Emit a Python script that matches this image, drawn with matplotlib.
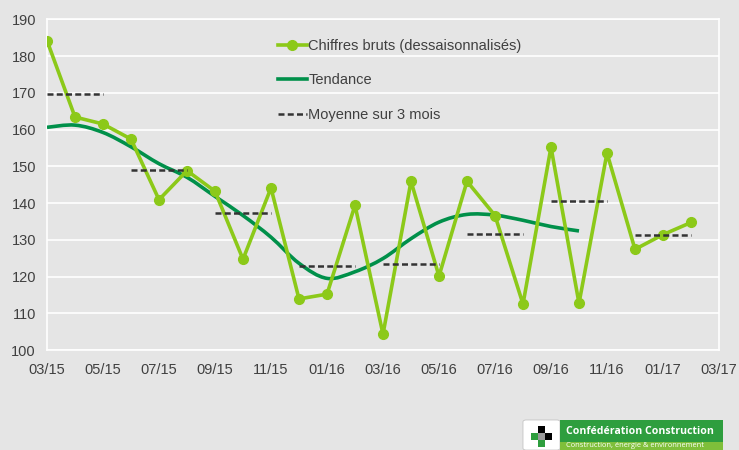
import matplotlib
matplotlib.use("Agg")
import matplotlib.pyplot as plt
import numpy as np
from matplotlib.path import Path
from matplotlib.patches import PathPatch, Rectangle, FancyBboxPatch
from matplotlib.lines import Line2D

plt.rcParams['font.family'] = ['Liberation Sans', 'DejaVu Sans']

# ---- data ----
tick_labels = ["03/15", "05/15", "07/15", "09/15", "11/15", "01/16", "03/16",
               "05/16", "07/16", "09/16", "11/16", "01/17", "03/17"]
raw_values = [184.2, 163.4, 161.5, 157.4, 140.9, 148.8, 143.2, 124.7, 144.1,
              113.9, 115.2, 139.4, 104.3, 145.9, 120.1, 145.9, 136.6, 112.5,
              155.2, 112.7, 153.6, 127.4, 131.4, 134.7]
trend_values = [160.6, 161.2, 159.2, 155.3, 150.7, 147.0, 141.8, 136.6, 130.7,
                123.6, 119.5, 121.3, 124.9, 130.3, 134.8, 136.9, 136.7, 135.3,
                133.6, 132.4]
avg3_values = [169.7, 149.0, 137.3, 122.8, 123.4, 131.7, 140.5, 131.2]

BG = "#e5e5e5"
LIME = "#8cc919"
DKGREEN = "#00904a"
TXT = "#404040"
FS = 10.5

fig = plt.figure(figsize=(7.39, 4.50), dpi=100, facecolor=BG)
ax = fig.add_axes([47/739, 100/450, (719-47)/739, (350-19.3)/450])
ax.set_facecolor(BG)

months = np.arange(len(raw_values))

# raw series
ax.plot(months, raw_values, color=LIME, lw=2.6, marker='o', ms=7,
        zorder=4, solid_joinstyle='round')

# trend: smoothed (Catmull-Rom style bezier like Excel smoothed line)
tx = np.arange(len(trend_values), dtype=float)
ty = np.array(trend_values)
verts = [(tx[0], ty[0])]
codes = [Path.MOVETO]
n = len(tx)
for i in range(n - 1):
    p0 = np.array([tx[max(i-1, 0)], ty[max(i-1, 0)]])
    p1 = np.array([tx[i], ty[i]])
    p2 = np.array([tx[i+1], ty[i+1]])
    p3 = np.array([tx[min(i+2, n-1)], ty[min(i+2, n-1)]])
    c1 = p1 + (p2 - p0) / 6.0
    c2 = p2 - (p3 - p1) / 6.0
    verts += [tuple(c1), tuple(c2), tuple(p2)]
    codes += [Path.CURVE4] * 3
ax.add_patch(PathPatch(Path(verts, codes), fill=False, edgecolor=DKGREEN,
                       lw=2.6, zorder=3, capstyle='butt'))

# 3-month averages
DASH = (2.4, 1.3)
for k, v in enumerate(avg3_values):
    ax.plot([3*k, 3*k + 2], [v, v], color="#333333", lw=1.8,
            dashes=DASH, zorder=5)

ax.set_xlim(0, 24)
ax.set_ylim(100, 190)
ax.set_xticks(np.arange(0, 25, 2))
ax.set_xticklabels(tick_labels)
ax.set_yticks(np.arange(100, 191, 10))
ax.tick_params(axis='x', length=0, labelsize=FS, colors=TXT, pad=9)
ax.tick_params(axis='y', length=0, labelsize=FS, colors=TXT, pad=8)
ax.grid(axis='y', color='white', lw=1.2, zorder=0)
for s in ax.spines.values():
    s.set_color('white')
    s.set_linewidth(1.2)
ax.set_axisbelow(True)

# legend
handles = [Line2D([], [], color=LIME, lw=2.6, marker='o', ms=7),
           Line2D([], [], color=DKGREEN, lw=2.6),
           Line2D([], [], color="#333333", lw=1.8, dashes=DASH)]
labels = ["Chiffres bruts (dessaisonnalisés)", "Tendance", "Moyenne sur 3 mois"]
leg = ax.legend(handles, labels, loc='upper left',
                bbox_to_anchor=((272-47)/672, (350-33)/330.7),
                frameon=False, fontsize=FS, labelcolor=TXT,
                handlelength=2.0, handletextpad=0.1, labelspacing=1.4,
                borderaxespad=0)

# logo
def fy(y):
    return (450 - y) / 450

fig.patches.append(FancyBboxPatch((523/739, 0), (560-523)/739, (450-420)/450,
                                  boxstyle="round,pad=0,rounding_size=0.004",
                                  transform=fig.transFigure, facecolor='white',
                                  edgecolor='#bbbbbb', lw=0.5))
fig.patches.append(Rectangle((560/739, fy(442)), (723-560)/739, (442-420)/450,
                             transform=fig.transFigure, facecolor='#2e9e3e',
                             edgecolor='none'))
fig.patches.append(Rectangle((560/739, 0), (723-560)/739, fy(442),
                             transform=fig.transFigure, facecolor='#7fbf3a',
                             edgecolor='none'))
fig.text(566/739, fy(432), "Confédération Construction", color='white',
         fontsize=7.6, fontweight='bold', va='center', ha='left',
         family=['Open Sans', 'DejaVu Sans'])
fig.text(566/739, fy(445.5), "Construction, énergie & environnement",
         color='white', fontsize=5.4, va='center', ha='left',
         family=['Open Sans', 'DejaVu Sans'])
# icon in logo (simple cross shape)
cx, cy = 541, 436
for dx, dy, col in [(-7, 0, '#2e9e3e'), (0, -7, 'black'), (7, 0, 'black'),
                    (0, 7, '#2e9e3e'), (0, 0, '#999999')]:
    fig.patches.append(Rectangle(((cx + dx - 3.5)/739, fy(cy + dy + 3.5)),
                                 7/739, 7/450, transform=fig.transFigure,
                                 facecolor=col, edgecolor='none'))

fig.savefig("out.png", dpi=100, facecolor=BG)
